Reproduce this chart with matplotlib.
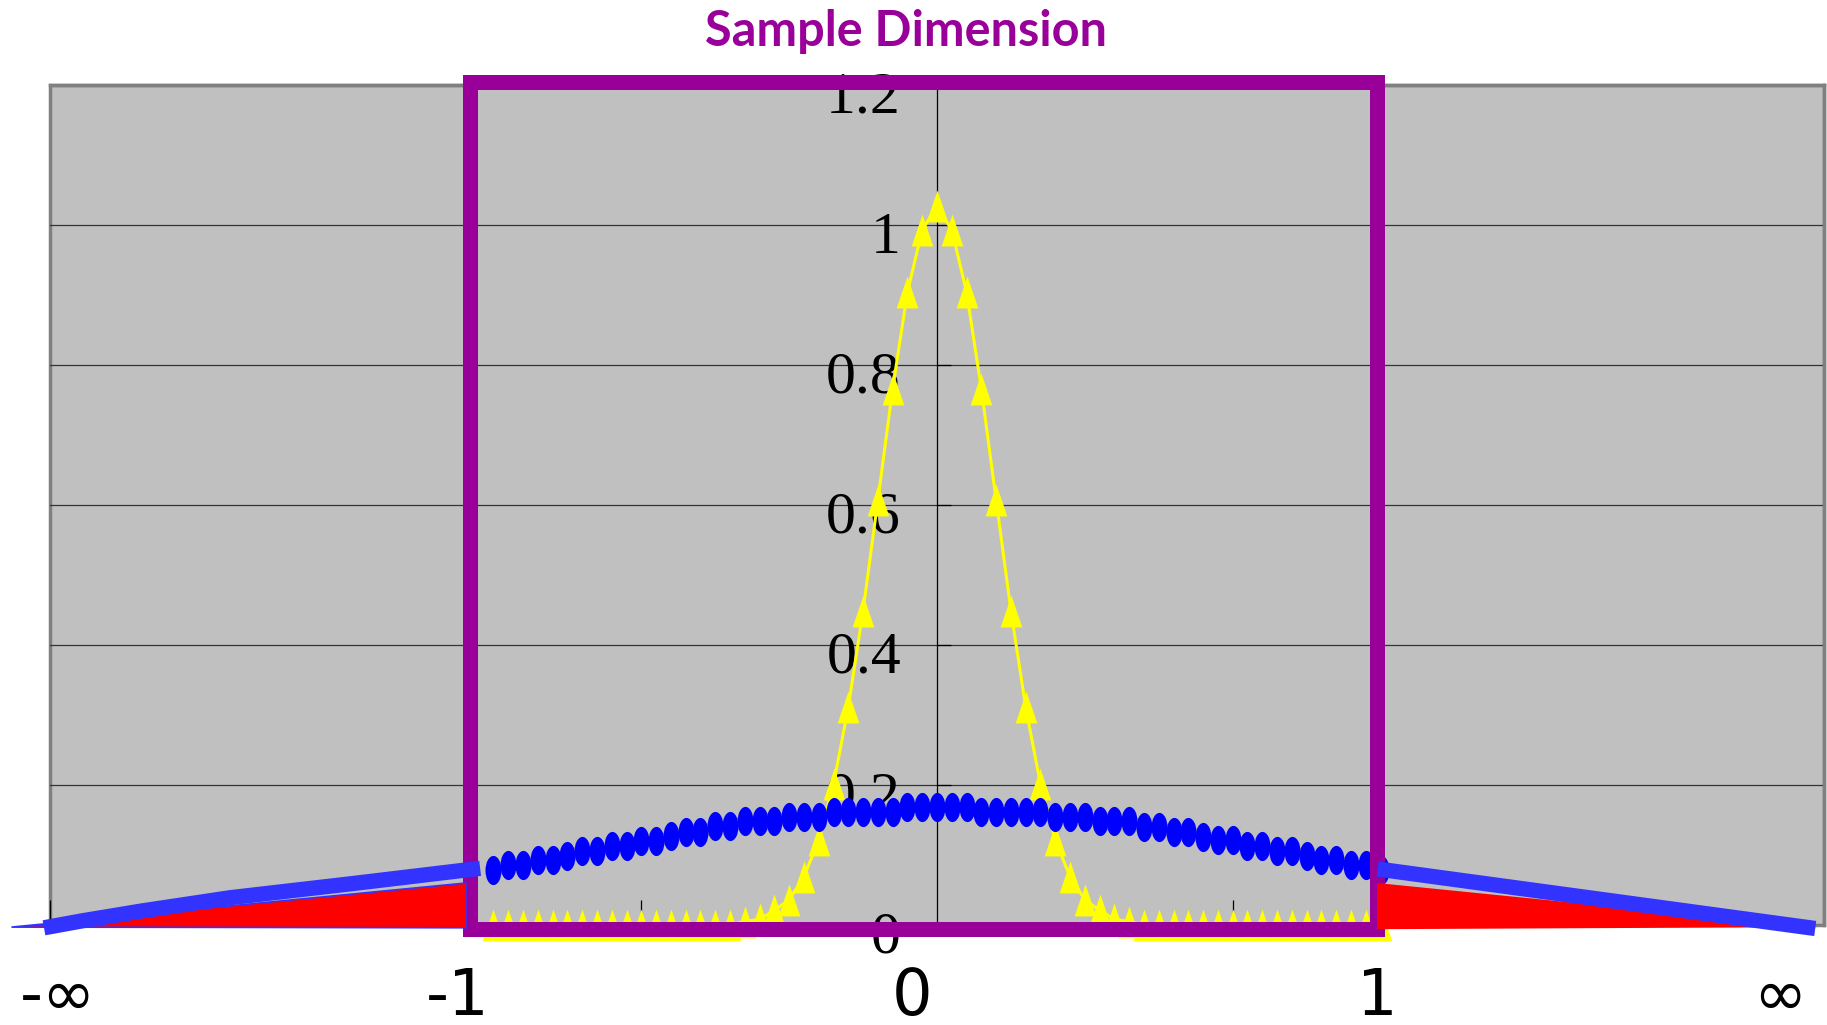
import matplotlib
matplotlib.use('Agg')
import matplotlib.pyplot as plt
from matplotlib.path import Path
from matplotlib.patches import Rectangle
from matplotlib.transforms import Affine2D, ScaledTranslation

# body koleckce vzorku (x) a hodnoty obou rozdeleni
x_vals = [-1.5, -1.45, -1.4, -1.35, -1.3, -1.25, -1.2, -1.15, -1.1, -1.05,
          -1.0, -0.95, -0.9, -0.85, -0.8, -0.75, -0.7, -0.65, -0.6, -0.55,
          -0.5, -0.45, -0.4, -0.35, -0.3, -0.25, -0.2, -0.15, -0.1, -0.05,
          0.0, 0.05, 0.1, 0.15, 0.2, 0.25, 0.3, 0.35, 0.4, 0.45,
          0.5, 0.55, 0.6, 0.65, 0.7, 0.75, 0.8, 0.85, 0.9, 0.95,
          1.0, 1.05, 1.1, 1.15, 1.2, 1.25, 1.3, 1.35, 1.4, 1.45, 1.5]

yellow_vals = [0, 0, 0, 0, 0, 0, 0, 0, 0, 0,
               0, 0, 0, 0, 0, 0, 0, 0.005, 0.008, 0.021,
               0.036, 0.069, 0.121, 0.201, 0.311, 0.449, 0.607, 0.766, 0.904, 0.993,
               1.027, 0.993, 0.904, 0.766, 0.607, 0.449, 0.311, 0.201, 0.121, 0.069,
               0.036, 0.021, 0.008, 0.005, 0, 0, 0, 0, 0, 0,
               0, 0, 0, 0, 0, 0, 0, 0, 0, 0, 0]

blue_vals = [0.079, 0.086, 0.086, 0.093, 0.093, 0.099, 0.106, 0.106, 0.113, 0.113,
             0.120, 0.120, 0.127, 0.133, 0.133, 0.141, 0.141, 0.148, 0.148, 0.148,
             0.155, 0.155, 0.155, 0.162, 0.162, 0.162, 0.162, 0.162, 0.169, 0.169,
             0.169, 0.169, 0.168, 0.162, 0.162, 0.162, 0.162, 0.162, 0.155, 0.155,
             0.155, 0.148, 0.148, 0.148, 0.140, 0.140, 0.133, 0.133, 0.126, 0.121,
             0.121, 0.113, 0.113, 0.106, 0.106, 0.099, 0.093, 0.093, 0.086, 0.086, 0.079]

# chvosty mimo ramecek (od -nekonecna do -1 a od 1 do nekonecna)
tail_left_x = [-3.02, -2.89, -2.69, -2.39, -1.98, -1.545]
tail_left_y = [-0.004, 0.006, 0.020, 0.039, 0.059, 0.081]
tail_right_x = [1.49, 2.97]
tail_right_y = [0.080, -0.005]
red_left_x = [-3.13, -1.593, -1.593]
red_left_y = [-0.003, 0.060, -0.004]
red_right_x = [1.488, 1.488, 2.976]
red_right_y = [0.060, -0.006, -0.003]

# zluty pruh pod spodni hranou ramecku
strip_y = [-0.0186, -0.0186]
strip_from = [-1.532, 0.673]
strip_to = [-0.666, 1.532]

y_ticks = [0, 0.2, 0.4, 0.6, 0.8, 1.0, 1.2]
y_tick_labels = ['0', '0.2', '0.4', '0.6', '0.8', '1', '1.2']
x_ticks = [-3, -1, 1, 3]

bottom_labels = ['-\u221e', '-1', '0', '1', '\u221e']
bottom_label_px = [58, 458, 912, 1377, 1780]

# fialovy ramecek (oblast od -1 do 1)
box_left, box_right = -1.579, 1.488
box_bottom, box_top = -0.0064, 1.204

W, H = 1827, 1025
fig = plt.figure(figsize=(W / 100, H / 100), dpi=100)
ax = fig.add_axes([49.9 / W, 100 / H, 1774.2 / W, 840 / H])
ax.set_xlim(-3, 3)
ax.set_ylim(0, 1.2)
ax.set_facecolor('#C0C0C0')
ax.patch.set_edgecolor('#808080')
ax.patch.set_linewidth(2.5)

# osy jako v Mathematice - svisla osa v nule
ax.spines['left'].set_position(('data', 0))
ax.spines['left'].set_color('black')
ax.spines['left'].set_linewidth(0.9)
ax.spines['bottom'].set_visible(False)
for s in ['top', 'right']:
    ax.spines[s].set_color('#808080')
    ax.spines[s].set_linewidth(2.5)

ax.set_yticks(y_ticks)
ax.set_yticklabels(y_tick_labels, family='Liberation Serif', fontsize=43)
ax.tick_params(axis='y', direction='in', length=10, width=0.9, pad=26, color='black')
for lab in ax.get_yticklabels():
    lab.set_transform(lab.get_transform() + ScaledTranslation(0, -0.07, fig.dpi_scale_trans))
ax.set_xticks(x_ticks)
ax.set_xticklabels([])
ax.tick_params(axis='x', direction='in', length=18, width=0.9, color='black')
ax.yaxis.grid(True, color='#333333', linewidth=0.9)
ax.set_axisbelow(True)

# markery: uzke trojuhelniky a svisle elipsy
tri = Path([(0, 1), (-0.68, -1), (0.68, -1), (0, 1)],
           [Path.MOVETO, Path.LINETO, Path.LINETO, Path.CLOSEPOLY])
ell = Path.unit_circle().transformed(Affine2D().scale(0.55, 1.0))

ax.plot(x_vals, yellow_vals, color='#FFFF00', lw=2.2, marker=tri, markersize=23,
        markeredgewidth=0, clip_on=False, zorder=3)
ax.plot(x_vals, blue_vals, color='#0000FF', lw=1, marker=ell, markersize=21,
        markeredgewidth=0, clip_on=False, zorder=4)

ax.hlines(strip_y, strip_from, strip_to, color='#FFFF00', lw=3,
          clip_on=False, zorder=5)

ax.add_patch(Rectangle((box_left, box_bottom), box_right - box_left, box_top - box_bottom,
                       fill=False, edgecolor='#990099', linewidth=10.8,
                       joinstyle='miter', clip_on=False, zorder=6))

# chvosty
ax.fill(red_left_x, red_left_y, facecolor='#FF0000', edgecolor='#3333FF', lw=1.2,
        clip_on=False, zorder=7)
ax.fill(red_right_x, red_right_y, facecolor='#FF0000', edgecolor='none',
        clip_on=False, zorder=7)
ax.plot(tail_left_x, tail_left_y, color='#3333FF', lw=11, solid_capstyle='butt',
        solid_joinstyle='round', clip_on=False, zorder=8)
ax.plot(tail_right_x, tail_right_y, color='#3333FF', lw=11, solid_capstyle='butt',
        clip_on=False, zorder=8)

fig.text(906 / W, 1 - 31 / H, 'Sample Dimension', color='#990099', fontsize=35,
         fontweight='bold', family='Lato', ha='center', va='center')

for lab, px in zip(bottom_labels, bottom_label_px):
    fig.text(px / W, 1 - 997 / H, lab, fontsize=46, family='DejaVu Sans',
             ha='center', va='center')

fig.savefig('out.png', dpi=100)
